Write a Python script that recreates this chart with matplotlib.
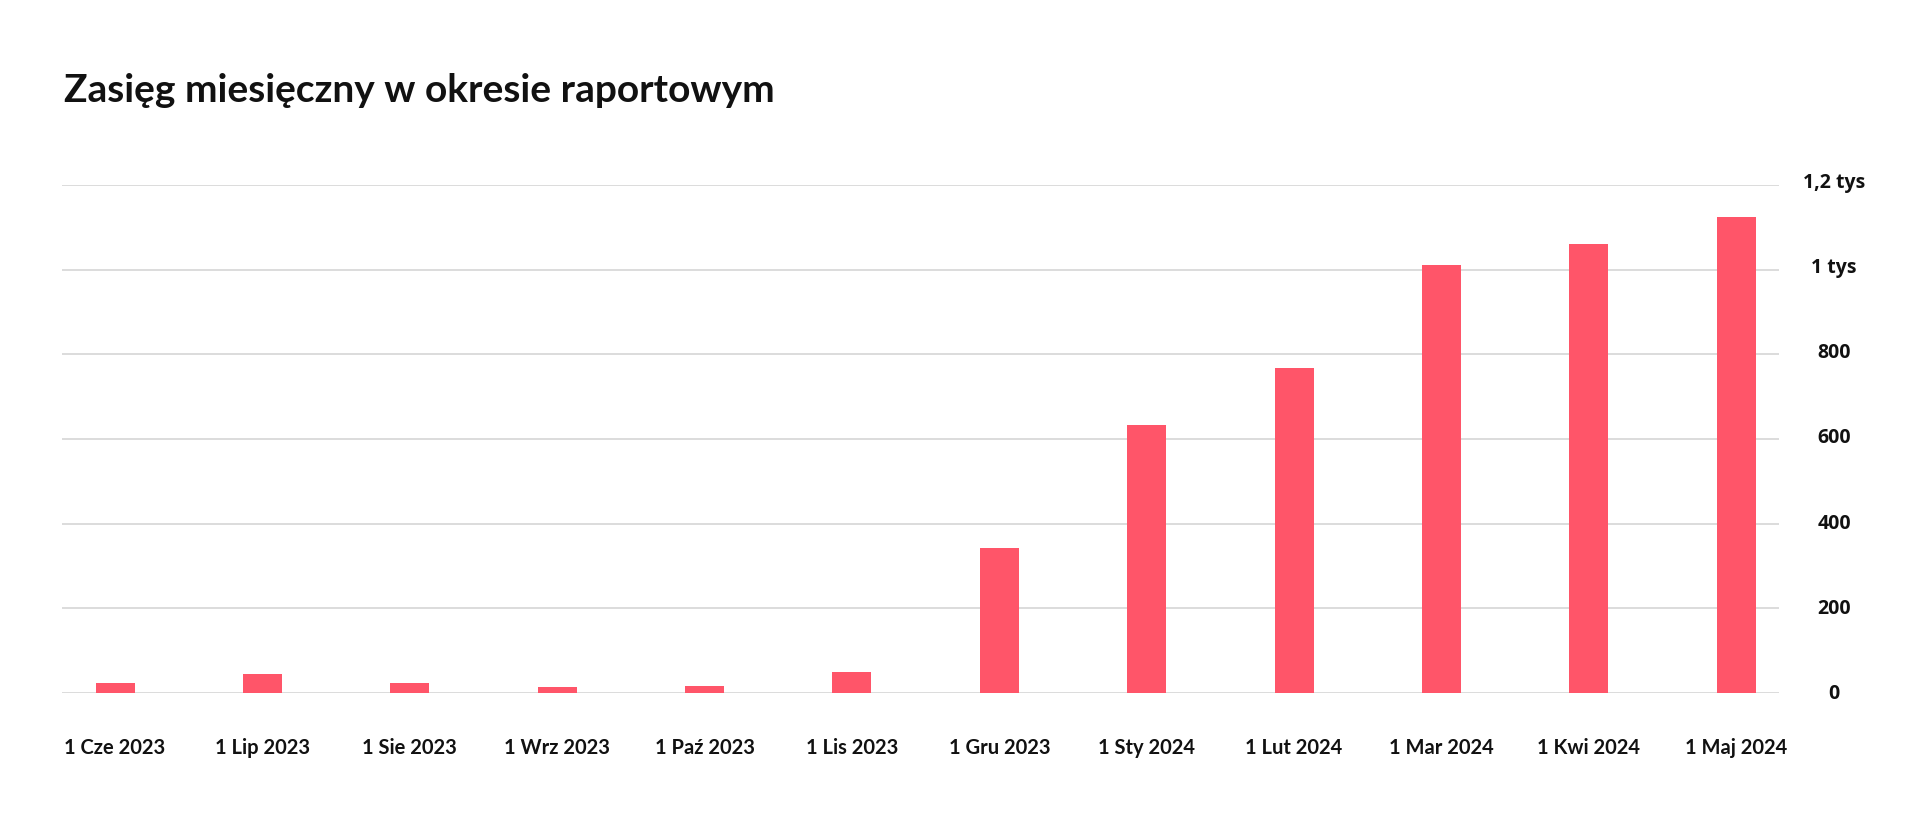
import numpy as np
import matplotlib.pyplot as plt
import matplotlib.transforms as mtransforms

months = ['1 Cze 2023', '1 Lip 2023', '1 Sie 2023', '1 Wrz 2023', '1 Paź 2023', '1 Lis 2023',
          '1 Gru 2023', '1 Sty 2024', '1 Lut 2024', '1 Mar 2024', '1 Kwi 2024', '1 Maj 2024']
reach = [23, 44, 23, 13, 17, 50, 342, 632, 768, 1012, 1061, 1125]

yticks = [0, 200, 400, 600, 800, 1000, 1200]
ylabels = ['0', '200', '400', '600', '800', '1 tys', '1,2 tys']

bar_color = '#ff5569'
grid_color = '#d2d2d2'

fig = plt.figure(figsize=(19.2, 8.37), dpi=100)
ax = fig.add_axes([62 / 1920, 1 - 694 / 837, (1779 - 62) / 1920, (694 - 186) / 837])

x = np.arange(len(months))
ax.bar(x, reach, width=0.265, color=bar_color, zorder=3)

ax.set_xlim(-0.36, len(months) - 1 + 0.29)
ax.set_ylim(0, 1200)

for v in yticks:
    ax.axhline(v, color=grid_color, lw=1.1, zorder=1)

ax.set_xticks(x)
ax.set_xticklabels(months, fontfamily='Lato', fontweight='bold', fontsize=14.5, color='#111111')
ax.tick_params(axis='x', length=0, pad=32)
ax.set_yticks([])

trans = mtransforms.blended_transform_factory(ax.transAxes, ax.transData)
for v, lab in zip(yticks, ylabels):
    ax.text(1.032, v + 8 * v / 1200, lab, transform=trans, ha='center', va='center',
            fontfamily='Open Sans', fontweight='bold', fontsize=14, color='#111111')

for s in ax.spines.values():
    s.set_visible(False)

fig.text(64 / 1920, 1 - 102 / 837, 'Zasięg miesięczny w okresie raportowym',
         fontfamily='Lato', fontweight='bold', fontsize=28, color='#111111', va='baseline')

fig.savefig('out.png', dpi=100, facecolor='white')
